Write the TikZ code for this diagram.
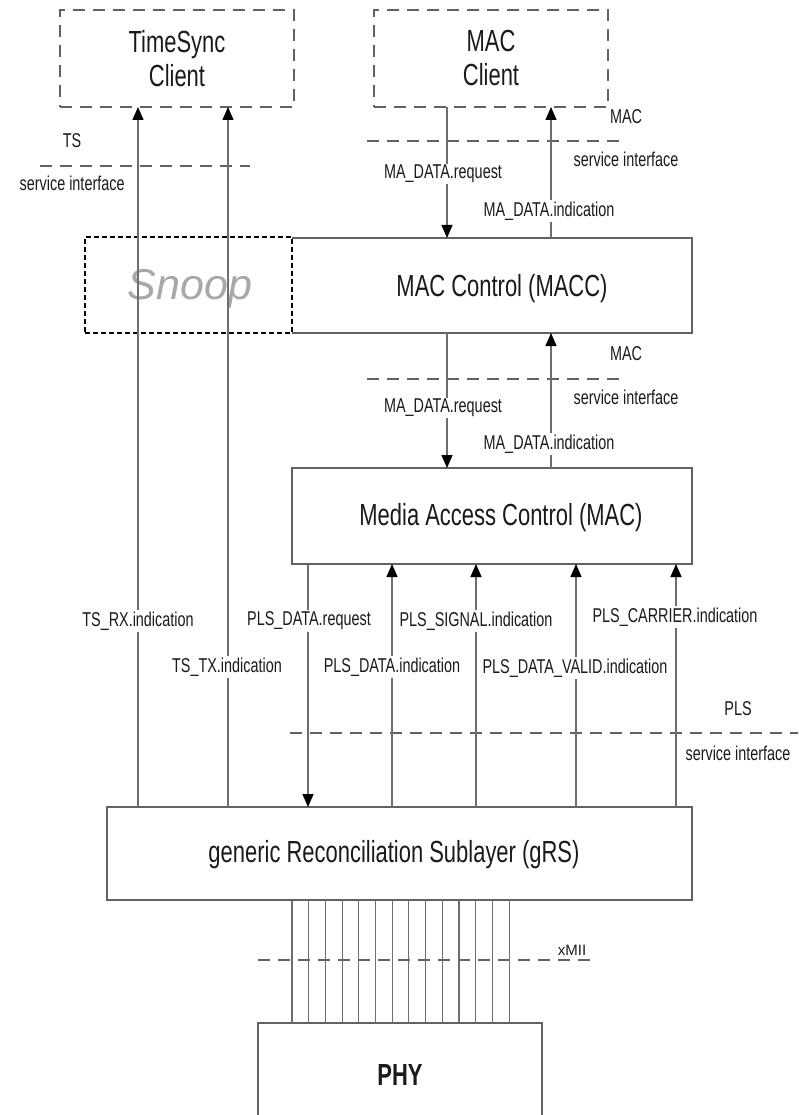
\documentclass[tikz,border=0pt]{standalone}
\usepackage{fontspec}
\setmainfont[FakeStretch=0.72]{Liberation Sans}
\newfontfamily\plainsans{Liberation Sans}
\usetikzlibrary{arrows.meta}

\definecolor{boxline}{HTML}{626262}
\definecolor{wire}{HTML}{6E6E6E}
\definecolor{ink}{HTML}{1A1A1A}
\definecolor{ghost}{HTML}{A8A8A8}

\tikzset{
  big/.style={font=\fontsize{30.5}{34}\selectfont, text=ink, align=center},
  lab/.style={font=\fontsize{20}{22}\selectfont, text=ink, fill=white, inner sep=1.5pt},
  block/.style={draw=boxline, line width=1.4pt, inner sep=0pt, outer sep=0pt},
  client/.style={draw=boxline, line width=1.3pt, dash pattern=on 12pt off 8pt,
                 inner sep=0pt, outer sep=0pt, big},
  svcline/.style={draw=boxline, line width=1.2pt, dash pattern=on 12pt off 8pt},
  arr/.style={draw=wire, line width=1.3pt, -{Triangle[length=13pt,width=11pt,black]}},
  bus/.style={draw=wire, line width=1.1pt},
}

\begin{document}
\begin{tikzpicture}[x=1pt, y=-1pt]
\useasboundingbox (0,0) rectangle (798,1115);
\clip (0,0) rectangle (798,1115);

% client boxes
\node[client, minimum width=234pt, minimum height=97pt] (tsc) at (177,58.5) {TimeSync\\Client};
\node[client, minimum width=234pt, minimum height=97pt] (mcl) at (491,58.5) {MAC\\Client};

% MAC Control: its left side is the dashed edge of the Snoop box
\node[inner sep=0pt, outer sep=0pt, minimum width=400pt, minimum height=95pt] (macc) at (492,285.5) {};
\draw[boxline, line width=1.4pt] (macc.north west) -- (macc.north east) -- (macc.south east) -- (macc.south west);
\node[big] (macct) at (502,289) {MAC Control (MACC)};
\node[draw=black, line width=1.8pt, dash pattern=on 5pt off 3pt, inner sep=0pt, outer sep=0pt,
      minimum width=207pt, minimum height=96pt] (snoop) at (188.5,285) {};
\node[font=\plainsans\itshape\fontsize{43}{45}\selectfont, text=ghost] (snoopt) at (190,289) {Snoop};

% layer blocks
\node[block, minimum width=400pt, minimum height=96pt] (mac) at (492,516) {};
\node[big] (mact) at (501,518) {Media Access Control (MAC)};
\node[block, minimum width=585pt, minimum height=93pt] (grs) at (399.5,853.5) {};
\node[big] (grst) at (394,855) {generic Reconciliation Sublayer (gRS)};
\node[block, minimum width=284pt, minimum height=114pt] (phy) at (400,1080) {};
\node[font=\bfseries\fontsize{30.5}{34}\selectfont, text=ink] (phyt) at (400,1075) {PHY};

% service interface boundaries
\draw[svcline] (40,166) -- (250,166);
\draw[svcline] (367,141) -- (620,141);
\draw[svcline] (367,379) -- (620,379);
\draw[svcline] (290,733) -- (798,733);
\draw[svcline] (258,960) -- (593,960);

% connector columns
\coordinate (xrx) at (138,0);
\coordinate (xtx) at (228,0);
\coordinate (xreq) at (447,0);
\coordinate (xind) at (551,0);
\coordinate (xpreq) at (308,0);
\coordinate (xpind) at (392,0);
\coordinate (xpsig) at (476,0);
\coordinate (xpval) at (576,0);
\coordinate (xpcar) at (676,0);

% timesync indications
\draw[arr] (xrx |- grs.north) -- (xrx |- tsc.south);
\draw[arr] (xtx |- grs.north) -- (xtx |- tsc.south);

% MAC client <-> MACC
\draw[arr] (xreq |- mcl.south) -- (xreq |- macc.north);
\draw[arr] (xind |- macc.north) -- (xind |- mcl.south);

% MACC <-> MAC
\draw[arr] (xreq |- macc.south) -- (xreq |- mac.north);
\draw[arr] (xind |- mac.north) -- (xind |- macc.south);

% MAC <-> gRS
\draw[arr] (xpreq |- mac.south) -- (xpreq |- grs.north);
\draw[arr] (xpind |- grs.north) -- (xpind |- mac.south);
\draw[arr] (xpsig |- grs.north) -- (xpsig |- mac.south);
\draw[arr] (xpval |- grs.north) -- (xpval |- mac.south);
\draw[arr] (xpcar |- grs.north) -- (xpcar |- mac.south);

% xMII bus
\foreach \i in {0,...,13}{
  \coordinate (b\i) at ({292+16.7*\i},0);
  \draw[bus] (b\i |- grs.south) -- (b\i |- phy.north);
}

% interface labels
\node[lab, fill=none] (tsname) at (72,141) {TS};
\node[lab, fill=none, anchor=west] (tssvc) at (18,183) {service interface};
\node[lab, fill=none] (macname1) at (626,117) {MAC};
\node[lab, fill=none] (macsvc1) at (626,159) {service interface};
\node[lab, fill=none] (macname2) at (626,354) {MAC};
\node[lab, fill=none] (macsvc2) at (626,397) {service interface};
\node[lab, fill=none] (plsname) at (738,709) {PLS};
\node[lab, fill=none] (plssvc) at (738,753) {service interface};
\node[font=\plainsans\fontsize{15}{17}\selectfont, text=ink] (xmii) at (572,950) {xMII};

% primitive labels
\node[lab] (l1) at (443,174) {MA\_DATA.request};
\node[lab] (l2) at (549,211) {MA\_DATA.indication};
\node[lab] (l3) at (443,408) {MA\_DATA.request};
\node[lab] (l4) at (549,444) {MA\_DATA.indication};
\node[lab] (l5) at (138,621) {TS\_RX.indication};
\node[lab] (l6) at (227,667) {TS\_TX.indication};
\node[lab] (l7) at (309,621) {PLS\_DATA.request};
\node[lab] (l8) at (392,667) {PLS\_DATA.indication};
\node[lab] (l9) at (476,621) {PLS\_SIGNAL.indication};
\node[lab] (l10) at (575,668) {PLS\_DATA\_VALID.indication};
\node[lab] (l11) at (675,617) {PLS\_CARRIER.indication};
\end{tikzpicture}
\end{document}
